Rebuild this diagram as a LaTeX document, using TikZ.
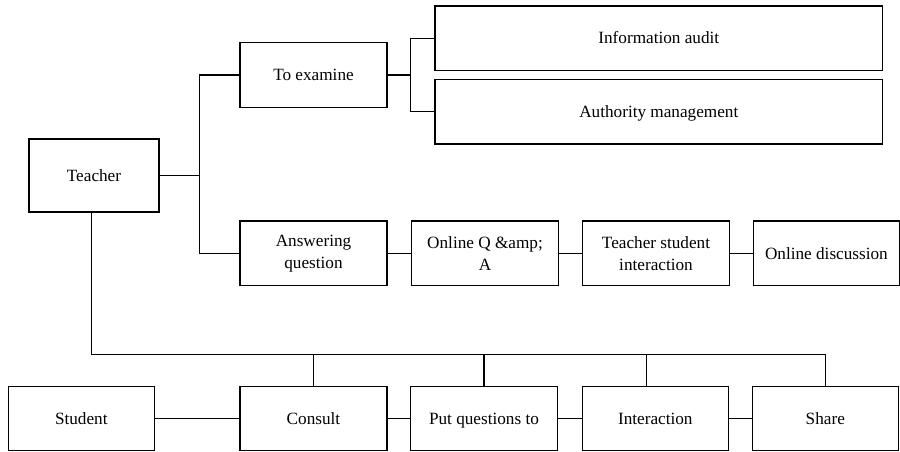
\documentclass[tikz,border=0pt]{standalone}
\usepackage{fontspec}
\setmainfont{Liberation Serif}
\begin{document}
\begin{tikzpicture}[x=1pt,y=-1pt,
  box/.style={draw, line width=1.4pt, inner sep=0pt, outer sep=0pt, align=center,
    font=\fontsize{17.2}{22}\selectfont,
    minimum width=#1, minimum height=64.5pt},
  box/.default=146.6pt,
  one/.style={text height=13.4pt, text depth=2pt},
  link/.style={line width=1.4pt}]
\useasboundingbox (0,0) rectangle (900,451);
% nodes
\node[box=130pt, one, minimum height=73pt] (teacher) at (94,175.5) {Teacher};
\node[box=147pt, one] (examine) at (313.5,75) {To examine};
\node[box=447.7pt, one] (info) at (658.8,38.2) {Information audit};
\node[box=447.7pt, one] (auth) at (658.8,111.7) {Authority management};
\node[box=147pt] (answer) at (313.5,253.3) {Answering\\question};
\node[box] (onlineq) at (485,253.3) {Online Q \&amp;\\A};
\node[box] (tsi) at (656,253.3) {Teacher student\\interaction};
\node[box=146pt, one] (disc) at (826.4,253.3) {Online discussion};
\node[box=146pt, one, minimum height=63.5pt] (student) at (81.3,418.5) {Student};
\node[box=147pt, one, minimum height=63.5pt] (consult) at (313.5,418.5) {Consult};
\node[box, one, minimum height=63.5pt] (put) at (484,418.5) {Put questions to};
\node[box=146pt, one, minimum height=63.5pt] (inter) at (655.3,418.5) {Interaction};
\node[box=146pt, one, minimum height=63.5pt] (share) at (825.3,418.5) {Share};
% helper coordinates
\coordinate (trunk) at (199.5,175.5);
\coordinate (br) at (410.7,75);
\coordinate (bus) at (91.7,354.3);
% connectors
\draw[link] (teacher.east) -- (teacher.east -| trunk);
\draw[link] (examine.west) -| (trunk) |- (answer.west);
\draw[link] (examine.east) -- (br);
\draw[link] (info.west) -| (br) |- (auth.west);
\draw[link] (answer.east) -- (onlineq.west);
\draw[link] (onlineq.east) -- (tsi.west);
\draw[link] (tsi.east) -- (disc.west);
\draw[link] ([xshift=-2.3pt]teacher.south) -- (bus) -- (share.north |- bus) -- (share.north);
\draw[link] (consult.north) -- (consult.north |- bus);
\draw[link] (put.north) -- (put.north |- bus);
\draw[link] ([xshift=-8.6pt]inter.north) -- ([xshift=-8.6pt]inter.north |- bus);
\draw[link] (student.east) -- (consult.west);
\draw[link] (consult.east) -- (put.west);
\draw[link] (put.east) -- (inter.west);
\draw[link] (inter.east) -- (share.west);
\end{tikzpicture}
\end{document}
